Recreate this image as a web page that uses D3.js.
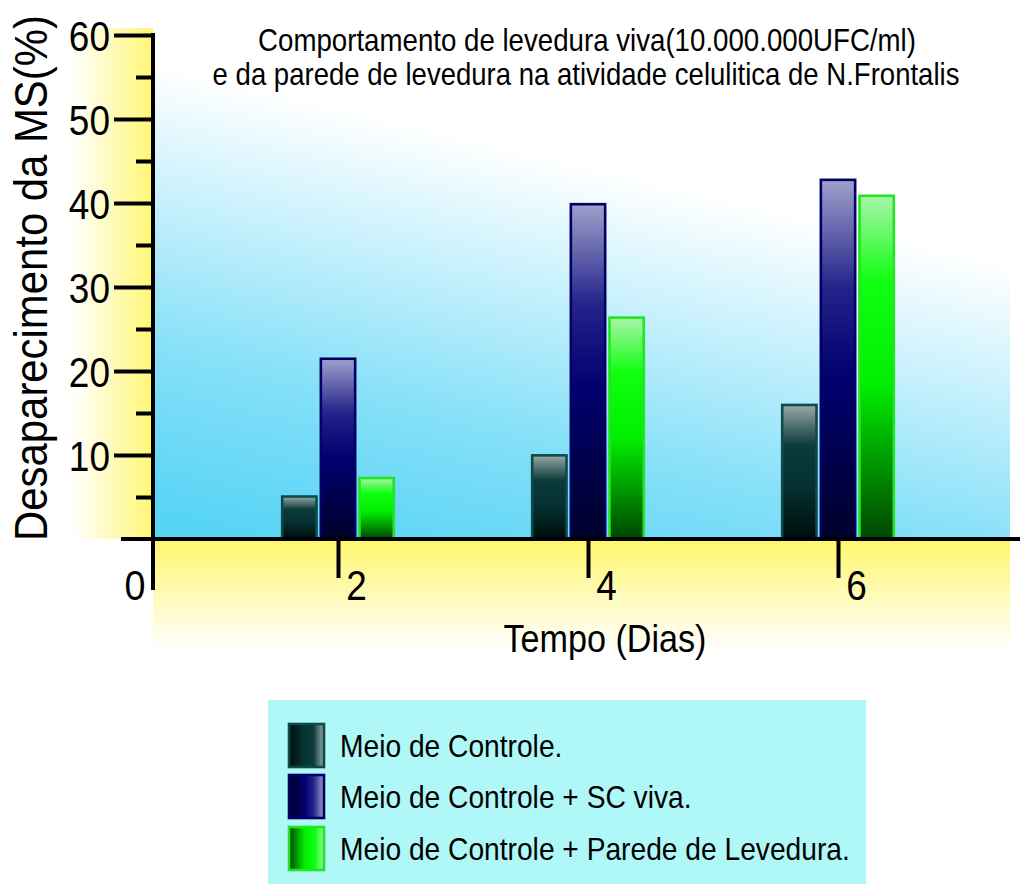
<!DOCTYPE html>
<html>
<head>
<meta charset="utf-8">
<script src="https://cdn.jsdelivr.net/npm/d3@7"></script>
<style>
  html, body { margin: 0; padding: 0; background: #fff; }
  svg { display: block; font-family: "Liberation Sans", Arial, sans-serif; }
</style>
</head>
<body>
<svg id="chart" width="1020" height="884"></svg>
<script>
// ---- data ----
const days = ["2", "4", "6"];
const seriesNames = [
  "Meio de Controle.",
  "Meio de Controle + SC viva.",
  "Meio de Controle + Parede de Levedura."
];
const controle      = [5.2, 10.1, 16.1];
const controleSC    = [21.6, 40.0, 42.9];
const controleWall  = [7.4, 26.5, 41.0];
const yMajorTicks = [10, 20, 30, 40, 50, 60];
const yMinorTicks = [5, 15, 25, 35, 45, 55];
const titleLines = [
  "Comportamento de levedura viva(10.000.000UFC/ml)",
  "e da parede de levedura na atividade celulitica de N.Frontalis"
];
const yTitle = "Desaparecimento da MS(%)";
const xTitle = "Tempo (Dias)";
const originLabel = "0";

const seriesValues = [controle, controleSC, controleWall];

// ---- styling ----
const barStyles = [
  { id: "g0", stroke: "#0e4a4a",
    stops: [[0, "#9aa8a8"], [0.3, "#0c3b3b"], [0.6, "#053131"], [1, "#000c0c"]] },
  { id: "g1", stroke: "#000066",
    stops: [[0, "#a0a0cc"], [0.3, "#23238a"], [0.55, "#000070"], [1, "#00002a"]] },
  { id: "g2", stroke: "#22e622",
    stops: [[0, "#aaf5aa"], [0.25, "#10ff10"], [0.55, "#00ee00"], [1, "#004400"]] }
];

const svg = d3.select("#chart");
const defs = svg.append("defs");

// vertical gradients for bars, horizontal ones for the legend swatches
barStyles.forEach(s => {
  const g = defs.append("linearGradient").attr("id", s.id)
    .attr("x1", 0).attr("y1", 0).attr("x2", 0).attr("y2", 1);
  s.stops.forEach(([o, c]) => g.append("stop").attr("offset", o).attr("stop-color", c));
  const h = defs.append("linearGradient").attr("id", s.id + "h")
    .attr("x1", 1).attr("y1", 0).attr("x2", 0).attr("y2", 0);
  s.stops.forEach(([o, c]) => h.append("stop").attr("offset", o).attr("stop-color", c));
});

// Draws text condensed horizontally to a given width, keeping its height.
function condensedText(parent, str, { x, y, size, width, anchor = "middle", rotate = 0 }) {
  const g = parent.append("g");
  const t = g.append("text").attr("font-size", size).attr("text-anchor", anchor).text(str);
  const k = width / t.node().getComputedTextLength();
  g.attr("transform", `translate(${x},${y}) rotate(${rotate}) scale(${k},1)`);
  return t;
}

// ---- scales ----
const x0 = 153, yBase = 539;
const y = d3.scaleLinear().domain([0, 60]).range([yBase, 35]);
const x = d3.scalePoint().domain(days).range([338, 838]);
const xs = d3.scaleBand().domain(d3.range(seriesNames.length)).range([-57, 57]).paddingInner(0.05);

// ---- background panels ----
const skyGrad = defs.append("linearGradient").attr("id", "sky")
  .attr("gradientUnits", "userSpaceOnUse")
  .attr("x1", 300).attr("y1", 545).attr("x2", 405).attr("y2", 100);
[[0, "#58d4f5"], [0.35, "#86e0f8"], [0.7, "#cdf2fd"], [0.95, "#ffffff"], [1, "#ffffff"]]
  .forEach(([o, c]) => skyGrad.append("stop").attr("offset", o).attr("stop-color", c));

const yellowLeft = defs.append("linearGradient").attr("id", "yl")
  .attr("x1", 0).attr("y1", 0).attr("x2", 1).attr("y2", 0);
[[0, "#ffffff"], [0.35, "#fffcd0"], [1, "#fff672"]]
  .forEach(([o, c]) => yellowLeft.append("stop").attr("offset", o).attr("stop-color", c));

const yellowDown = defs.append("linearGradient").attr("id", "yd")
  .attr("x1", 0).attr("y1", 0).attr("x2", 0).attr("y2", 1);
[[0, "#fff66c"], [0.45, "#fffab0"], [1, "#ffffff"]]
  .forEach(([o, c]) => yellowDown.append("stop").attr("offset", o).attr("stop-color", c));

svg.append("rect").attr("x", x0).attr("y", 28).attr("width", 1010 - x0).attr("height", yBase - 28)
  .attr("fill", "url(#sky)");
svg.append("rect").attr("x", 72).attr("y", 28).attr("width", x0 - 72).attr("height", yBase - 28)
  .attr("fill", "url(#yl)");
svg.append("rect").attr("x", x0).attr("y", yBase).attr("width", 1010 - x0).attr("height", 112)
  .attr("fill", "url(#yd)");

// ---- bars ----
const groups = svg.append("g").selectAll("g").data(days).join("g")
  .attr("transform", d => `translate(${x(d)},0)`);
groups.selectAll("rect")
  .data((d, i) => seriesValues.map((vals, s) => ({ s, v: vals[i] })))
  .join("rect")
  .attr("x", d => xs(d.s) + 1.2)
  .attr("width", xs.bandwidth() - 2.4)
  .attr("y", d => y(d.v) + 1.2)
  .attr("height", d => yBase - y(d.v) - 1.2)
  .attr("fill", d => `url(#${barStyles[d.s].id})`)
  .attr("stroke", d => barStyles[d.s].stroke)
  .attr("stroke-width", 2.6);

// ---- axes ----
const axisW = 4;
const yAxisMajor = svg.append("g").attr("transform", `translate(${x0},0)`)
  .call(d3.axisLeft(y).tickValues(yMajorTicks).tickSize(39).tickPadding(4).tickFormat(d3.format("d")));
const yAxisMinor = svg.append("g").attr("transform", `translate(${x0},0)`)
  .call(d3.axisLeft(y).tickValues(yMinorTicks).tickSize(17).tickFormat(""));
[yAxisMajor, yAxisMinor].forEach(g => {
  g.select(".domain").remove();
  g.selectAll(".tick line").attr("stroke", "#000").attr("stroke-width", axisW);
});
yAxisMajor.selectAll(".tick text")
  .attr("font-size", 43).attr("fill", "#000")
  .attr("dy", "0.36em")
  .attr("transform", "translate(-43,0) scale(0.86,1)")
  .attr("x", 0);

// vertical axis line (runs a little below the baseline)
svg.append("line").attr("x1", x0).attr("x2", x0).attr("y1", y(60) - 2).attr("y2", 590)
  .attr("stroke", "#000").attr("stroke-width", axisW);

// horizontal axis line and day ticks
svg.append("line").attr("x1", 121).attr("x2", 1020).attr("y1", yBase).attr("y2", yBase)
  .attr("stroke", "#000").attr("stroke-width", axisW);
const xAxis = svg.append("g").attr("transform", `translate(0,${yBase})`)
  .call(d3.axisBottom(x).tickSize(39).tickPadding(0));
xAxis.select(".domain").remove();
xAxis.selectAll(".tick line").attr("stroke", "#000").attr("stroke-width", axisW);
xAxis.selectAll(".tick text")
  .attr("font-size", 43).attr("fill", "#000")
  .attr("text-anchor", "middle")
  .attr("y", 0).attr("dy", 0).attr("x", 0)
  .attr("transform", "translate(18,61) scale(0.86,1)");

condensedText(svg, originLabel, { x: 135, y: yBase + 61, size: 43, width: 21 });

// ---- titles ----
condensedText(svg, titleLines[0], { x: 587, y: 51, size: 30.5, width: 658 });
condensedText(svg, titleLines[1], { x: 586, y: 85, size: 30.5, width: 747 });
condensedText(svg, yTitle, { x: 47, y: (15 + 541) / 2, size: 46, width: 526, rotate: -90 });
condensedText(svg, xTitle, { x: 605, y: 652, size: 38, width: 203 });

// ---- legend ----
const legend = svg.append("g");
legend.append("rect").attr("x", 268).attr("y", 700).attr("width", 598).attr("height", 184)
  .attr("fill", "#b0f8f8");
const legendRowY = [723, 774, 826];
// one common horizontal condensing factor, so the longest row ends near the box edge
const probe = legend.append("text").attr("font-size", 32).text(seriesNames[2]);
const legendK = 510 / probe.node().getComputedTextLength();
probe.remove();
seriesNames.forEach((name, i) => {
  legend.append("rect").attr("x", 289).attr("y", legendRowY[i] + 1)
    .attr("width", 35).attr("height", 43)
    .attr("fill", `url(#${barStyles[i].id}h)`)
    .attr("stroke", barStyles[i].stroke).attr("stroke-width", 2.6);
  legend.append("text").attr("font-size", 32)
    .attr("transform", `translate(340,${legendRowY[i] + 34}) scale(${legendK},1)`)
    .text(name);
});
</script>
</body>
</html>
